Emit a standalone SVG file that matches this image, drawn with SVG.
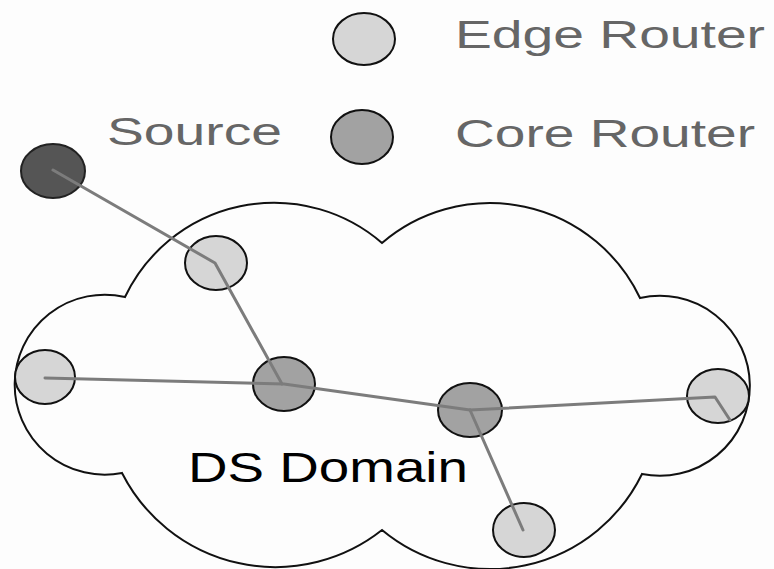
<svg xmlns="http://www.w3.org/2000/svg" width="774" height="569" viewBox="0 0 774 569">
  <style>
    .edge { fill: #d6d6d6; stroke: #111; stroke-width: 2; }
    .core { fill: #a2a2a2; stroke: #111; stroke-width: 2; }
    .source { fill: #555; stroke: #222; stroke-width: 2; }
    .link { fill: none; stroke: #7c7c7c; stroke-width: 3; stroke-linejoin: round; stroke-linecap: round; }
    .legend { font-family: "Liberation Sans", Arial, sans-serif; font-size: 38px; fill: #666; }
    .domain-label { font-family: "Liberation Sans", Arial, sans-serif; font-size: 42px; fill: #000; }
    .cloud { fill: none; stroke: #111; stroke-width: 2; }
  </style>
  <rect width="774" height="569" fill="#fdfdfd"/>

  <!-- DS domain cloud outline -->
  <g id="ds-domain">
    <path class="cloud" d="M 125 297 A 165 165 0 0 1 382 243 A 166 166 0 0 1 640 298 A 90 90 0 1 1 642 474 A 169 169 0 0 1 382 530 A 172 172 0 0 1 122 473 A 90 90 0 1 1 125 297 Z"/>
    <text class="domain-label" x="188" y="482" textLength="280" lengthAdjust="spacingAndGlyphs">DS Domain</text>
  </g>

  <!-- legend -->
  <g id="legend-edge">
    <ellipse class="edge" cx="364" cy="39" rx="31" ry="26"/>
    <text class="legend" x="455" y="48" textLength="310" lengthAdjust="spacingAndGlyphs">Edge Router</text>
  </g>
  <g id="legend-core">
    <ellipse class="core" cx="362" cy="137" rx="31" ry="27"/>
    <text class="legend" x="455" y="147" textLength="300" lengthAdjust="spacingAndGlyphs">Core Router</text>
  </g>

  <!-- source host -->
  <g id="source">
    <ellipse class="source" cx="53" cy="171" rx="32" ry="27"/>
    <text class="legend" x="107" y="145" textLength="175" lengthAdjust="spacingAndGlyphs">Source</text>
  </g>

  <!-- routers -->
  <g id="edge-ingress">
    <ellipse class="edge" cx="216" cy="263" rx="31" ry="27"/>
  </g>
  <g id="edge-left">
    <ellipse class="edge" cx="45" cy="377" rx="30" ry="27"/>
  </g>
  <g id="core-1">
    <ellipse class="core" cx="284" cy="384" rx="31" ry="27"/>
  </g>
  <g id="core-2">
    <ellipse class="core" cx="470" cy="410" rx="32" ry="27"/>
  </g>
  <g id="edge-right">
    <ellipse class="edge" cx="718" cy="396" rx="31" ry="27"/>
  </g>
  <g id="edge-bottom">
    <ellipse class="edge" cx="524" cy="530" rx="31" ry="27"/>
  </g>

  <!-- links, drawn over the router discs -->
  <g id="connectors">
    <polyline class="link" points="53,170 215,263 282,384"/>
    <polyline class="link" points="45,378 284,384 470,410"/>
    <polyline class="link" points="470,410 715,397 730,420"/>
    <polyline class="link" points="470,410 523,530"/>
  </g>
</svg>
